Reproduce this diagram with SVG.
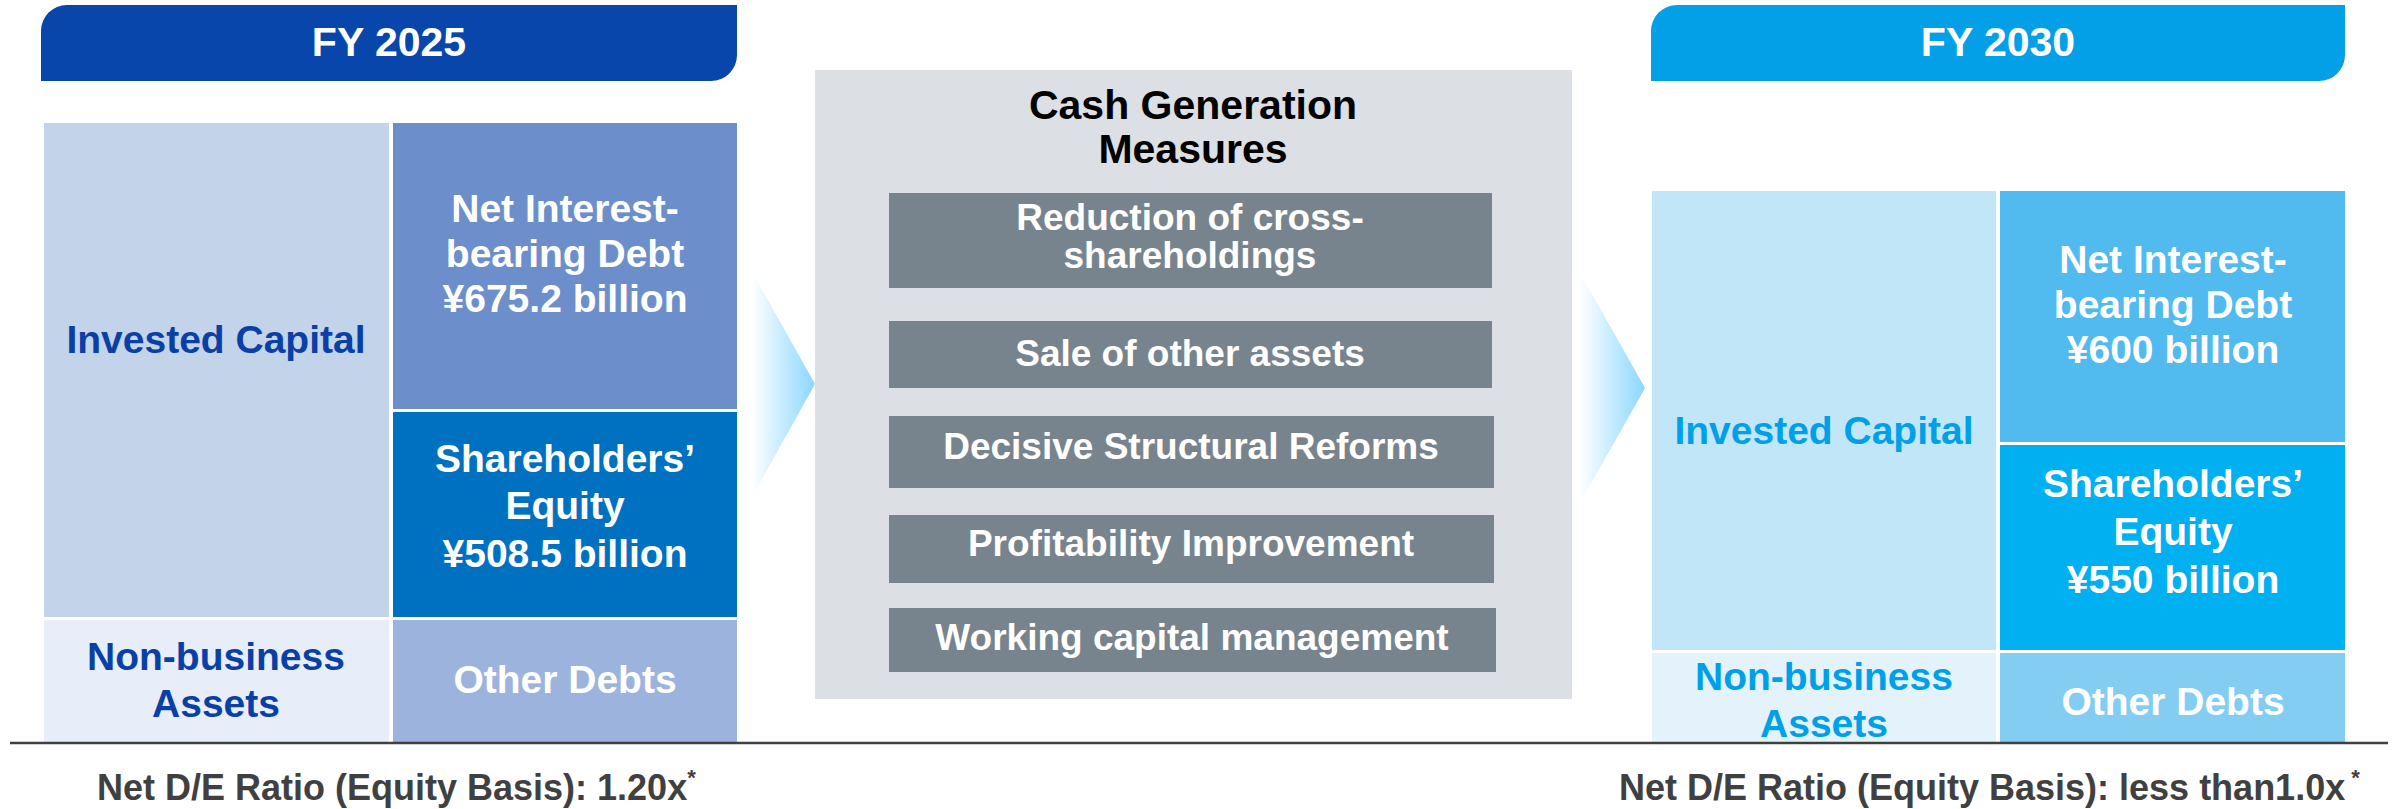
<svg xmlns="http://www.w3.org/2000/svg" width="2397" height="809" viewBox="0 0 2397 809">
  <defs>
    <linearGradient id="arrowL" gradientUnits="userSpaceOnUse" x1="752" y1="0" x2="812" y2="0">
      <stop offset="0" stop-color="#ffffff"/>
      <stop offset="1" stop-color="#8fd9ff"/>
    </linearGradient>
    <linearGradient id="arrowR" gradientUnits="userSpaceOnUse" x1="1580" y1="0" x2="1642" y2="0">
      <stop offset="0" stop-color="#ffffff"/>
      <stop offset="1" stop-color="#8fd9ff"/>
    </linearGradient>
    <style>
      text { font-family: "Liberation Sans", Arial, sans-serif; font-weight: bold; text-anchor: middle; }
      .hdr { font-size: 41px; fill: #ffffff; }
      .box { font-size: 39px; fill: #ffffff; }
      .blue25 { font-size: 39px; fill: #0a3fa6; }
      .blue30 { font-size: 39px; fill: #00a0e9; }
      .title { font-size: 41px; fill: #000000; }
      .meas { font-size: 37px; fill: #ffffff; }
      .ratio { font-size: 36px; fill: #404040; text-anchor: start; }
      .sup { font-size: 22px; }
      .measbox { fill: #77848d; }
    </style>
  </defs>
  <rect width="2397" height="809" fill="#ffffff"/>

  <!-- FY 2025 -->
  <g id="fy2025-header">
    <path d="M41,81 L41,31 A26,26 0 0 1 67,5 L737,5 L737,55 A26,26 0 0 1 711,81 Z" fill="#0846ab"/>
    <text class="hdr" x="389" y="56">FY 2025</text>
  </g>
  <g id="fy2025-invested-capital">
    <rect x="44" y="123" width="345" height="494" fill="#c2d3ea"/>
    <text class="blue25" x="216" y="353">Invested Capital</text>
  </g>
  <g id="fy2025-net-debt">
    <rect x="393" y="123" width="344" height="286" fill="#6c8fcb"/>
    <text class="box" x="565" y="222">Net Interest-</text>
    <text class="box" x="565" y="267">bearing Debt</text>
    <text class="box" x="565" y="312">¥675.2 billion</text>
  </g>
  <g id="fy2025-equity">
    <rect x="393" y="412" width="344" height="205" fill="#0070c0"/>
    <text class="box" x="565" y="472">Shareholders’</text>
    <text class="box" x="565" y="519">Equity</text>
    <text class="box" x="565" y="567">¥508.5 billion</text>
  </g>
  <g id="fy2025-non-business">
    <rect x="44" y="620" width="345" height="122" fill="#e7eef9"/>
    <text class="blue25" x="216" y="670">Non-business</text>
    <text class="blue25" x="216" y="717">Assets</text>
  </g>
  <g id="fy2025-other-debts">
    <rect x="393" y="620" width="344" height="122" fill="#9cb4dd"/>
    <text class="box" x="565" y="693">Other Debts</text>
  </g>

  <!-- Cash Generation Measures -->
  <g id="cash-generation">
    <rect x="815" y="70" width="757" height="629" fill="#dce0e4"/>
    <text class="title" x="1193" y="119">Cash Generation</text>
    <text class="title" x="1193" y="163">Measures</text>
  </g>
  <g id="measure-cross-shareholdings">
    <rect class="measbox" x="889" y="193" width="603" height="95"/>
    <text class="meas" x="1190" y="230">Reduction of cross-</text>
    <text class="meas" x="1190" y="268">shareholdings</text>
  </g>
  <g id="measure-sale-assets">
    <rect class="measbox" x="889" y="321" width="603" height="67"/>
    <text class="meas" x="1190" y="366">Sale of other assets</text>
  </g>
  <g id="measure-structural-reforms">
    <rect class="measbox" x="889" y="416" width="605" height="72"/>
    <text class="meas" x="1191" y="459">Decisive Structural Reforms</text>
  </g>
  <g id="measure-profitability">
    <rect class="measbox" x="889" y="515" width="605" height="68"/>
    <text class="meas" x="1191" y="556">Profitability Improvement</text>
  </g>
  <g id="measure-working-capital">
    <rect class="measbox" x="889" y="608" width="607" height="64"/>
    <text class="meas" x="1192" y="650">Working capital management</text>
  </g>

  <!-- FY 2030 -->
  <g id="fy2030-header">
    <path d="M1651,81 L1651,31 A26,26 0 0 1 1677,5 L2345,5 L2345,55 A26,26 0 0 1 2319,81 Z" fill="#03a0e8"/>
    <text class="hdr" x="1998" y="56">FY 2030</text>
  </g>
  <g id="fy2030-invested-capital">
    <rect x="1652" y="191" width="344" height="459" fill="#c1e6f8"/>
    <text class="blue30" x="1824" y="444">Invested Capital</text>
  </g>
  <g id="fy2030-net-debt">
    <rect x="2000" y="191" width="345" height="251" fill="#51baef"/>
    <text class="box" x="2173" y="273">Net Interest-</text>
    <text class="box" x="2173" y="318">bearing Debt</text>
    <text class="box" x="2173" y="363">¥600 billion</text>
  </g>
  <g id="fy2030-equity">
    <rect x="2000" y="445" width="345" height="205" fill="#00b0f0"/>
    <text class="box" x="2173" y="497">Shareholders’</text>
    <text class="box" x="2173" y="545">Equity</text>
    <text class="box" x="2173" y="593">¥550 billion</text>
  </g>
  <g id="fy2030-non-business">
    <rect x="1652" y="653" width="344" height="89" fill="#e4f3fb"/>
    <text class="blue30" x="1824" y="690">Non-business</text>
    <text class="blue30" x="1824" y="737">Assets</text>
  </g>
  <g id="fy2030-other-debts">
    <rect x="2000" y="653" width="345" height="89" fill="#83cdf3"/>
    <text class="box" x="2173" y="715">Other Debts</text>
  </g>

  <!-- connectors -->
  <g id="connectors">
    <polygon points="752,272 815,384 752,497" fill="url(#arrowL)"/>
    <polygon points="1580,273 1645,388 1580,503" fill="url(#arrowR)"/>
  </g>

  <g id="baseline-rule">
    <line x1="10" y1="743" x2="2388" y2="743" stroke="#404040" stroke-width="2.5"/>
  </g>

  <g id="ratio-2025">
    <text class="ratio" x="97" y="800">Net D/E Ratio (Equity Basis): 1.20x<tspan class="sup" dy="-15">*</tspan></text>
  </g>
  <g id="ratio-2030">
    <text class="ratio" x="1619" y="800">Net D/E Ratio (Equity Basis): less than1.0x<tspan class="sup" dy="-15"> *</tspan></text>
  </g>
</svg>
